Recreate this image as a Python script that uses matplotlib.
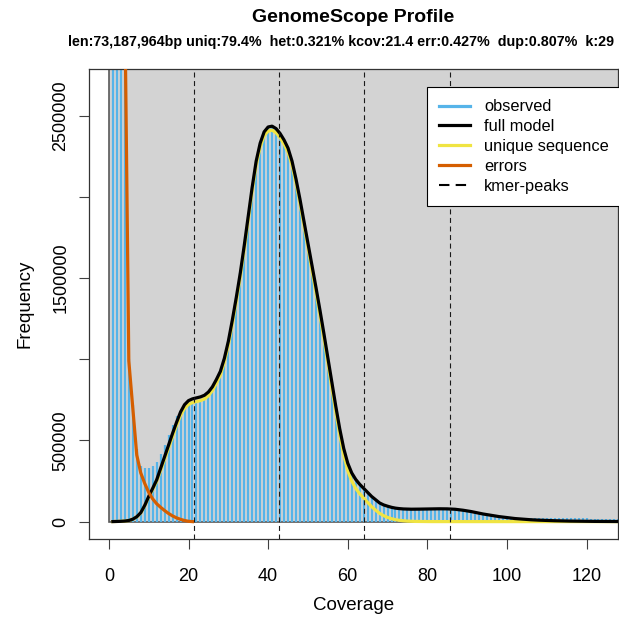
import matplotlib
matplotlib.use('Agg')
import matplotlib.pyplot as plt
from matplotlib.patches import Rectangle
from matplotlib.lines import Line2D
import numpy as np

plt.rcParams['font.family'] = ['Liberation Sans', 'DejaVu Sans']

# k-mer coverage 1..130
coverage = list(range(1, 131))

observed = [
    32000000, 14000000, 6000000, 3300000, 1000000, 720000, 450000, 345000, 330000, 332000,
    345000, 368000, 418000, 470000, 535000, 598000, 650000, 690000, 715000, 728000,
    735000, 740000, 748000, 760000, 782000, 815000, 862000, 918000, 1000000, 1105000,
    1235000, 1378000, 1528000, 1698000, 1878000, 2058000, 2215000, 2325000, 2398000, 2428000,
    2432000, 2418000, 2388000, 2348000, 2298000, 2218000, 2108000, 1982000, 1848000, 1712000,
    1578000, 1442000, 1302000, 1158000, 1008000, 858000, 708000, 568000, 448000, 358000,
    298000, 258000, 228000, 203000, 178000, 153000, 133000, 114000, 102000, 94000,
    87000, 82000, 79000, 77000, 76000, 76000, 76500, 77000, 77500, 78000,
    78000, 78500, 78500, 78000, 77500, 76500, 75000, 72000, 69000, 65000,
    61000, 56000, 51000, 46500, 42500, 38500, 35000, 31500, 28500, 26000,
    24500, 24000, 23500, 23000, 23000, 22500, 22500, 22000, 22000, 21500,
    21500, 21000, 21000, 20500, 20500, 20000, 20000, 20000, 19500, 19500,
    19000, 19000, 19000, 18500, 18500, 18500, 18000, 18000, 18000, 17500,
]

full_model = [
    300, 800, 1800, 3500, 7000, 15000, 30000, 55000, 100000, 155000,
    205000, 257000, 328000, 400000, 472000, 544000, 612000, 675000, 720000, 745000,
    756000, 762000, 768000, 778000, 798000, 830000, 875000, 925000, 1005000, 1110000,
    1240000, 1380000, 1530000, 1700000, 1880000, 2060000, 2220000, 2330000, 2400000, 2430000,
    2435000, 2420000, 2390000, 2350000, 2300000, 2220000, 2110000, 1985000, 1850000, 1715000,
    1580000, 1445000, 1305000, 1160000, 1010000, 860000, 710000, 570000, 450000, 360000,
    300000, 260000, 230000, 205000, 180000, 155000, 135000, 115000, 103000, 95000,
    88000, 83000, 80000, 78000, 77000, 76500, 76500, 77000, 77500, 78000,
    78500, 79000, 79000, 79000, 78500, 77500, 76000, 73000, 70000, 66000,
    62000, 57000, 52000, 47000, 43000, 39000, 35000, 31000, 28000, 25000,
    22000, 19000, 17000, 15000, 13000, 11500, 10000, 9000, 8000, 7000,
    6200, 5500, 4800, 4200, 3700, 3200, 2800, 2400, 2100, 1800,
    1600, 1400, 1200, 1000, 900, 800, 700, 600, 500, 450,
]

unique_seq = [
    290, 780, 1750, 3400, 6800, 14500, 29000, 53000, 97000, 150000,
    198000, 248000, 315000, 385000, 455000, 526000, 593000, 654000, 698000, 722000,
    733000, 739000, 745000, 755000, 775000, 807000, 852000, 902000, 982000, 1087000,
    1216000, 1356000, 1506000, 1676000, 1856000, 2036000, 2196000, 2306000, 2376000, 2405000,
    2410000, 2395000, 2365000, 2325000, 2275000, 2195000, 2085000, 1960000, 1825000, 1690000,
    1550000, 1415000, 1275000, 1130000, 980000, 825000, 675000, 535000, 410000, 315000,
    250000, 205000, 172000, 145000, 118000, 92000, 71000, 51000, 37000, 26000,
    18000, 12000, 8000, 5000, 3000, 2000, 1200, 800, 500, 300,
    200, 150, 100, 80, 60, 40, 30, 20, 10, 10,
    0, 0, 0, 0, 0, 0, 0, 0, 0, 0,
    0, 0, 0, 0, 0, 0, 0, 0, 0, 0,
    0, 0, 0, 0, 0, 0, 0, 0, 0, 0,
    0, 0, 0, 0, 0, 0, 0, 0, 0, 0,
]

err_cov = list(range(1, 22))
errors = [32000000, 14000000, 6000000, 3200000, 990000, 700000, 410000, 300000, 235000, 180000,
          140000, 110000, 88000, 68000, 50000, 35000, 23000, 14000, 7000, 2000, 0]

kmer_peaks = [21.4, 42.8, 64.2, 85.6]

yticks = [0, 500000, 1000000, 1500000, 2000000, 2500000]
ytick_labels = ['0', '500000', '', '1500000', '', '2500000']
xticks = [0, 20, 40, 60, 80, 100, 120]

C_HIST = '#56B4E9'
C_ERR = '#D55E00'
C_UNIQ = '#F0E442'

fig = plt.figure(figsize=(6.19, 6.17), dpi=100)
ax = fig.add_axes([89 / 619, 1 - 539 / 617, 529 / 619, 470 / 617])
ax.set_xlim(-5.0, 127.9)
ax.set_ylim(-107000, 2787000)

ax.add_patch(Rectangle((0, 0), 1000, 1e9, facecolor='#D3D3D3', edgecolor='0.35',
                       lw=1.2, zorder=1))
ax.vlines(coverage, 0, observed, color=C_HIST, lw=1.6, zorder=2)
ax.plot(coverage, unique_seq, color=C_UNIQ, lw=2.3, zorder=3)
ax.plot(coverage, full_model, color='black', lw=2.3, zorder=4)
ax.plot(err_cov, errors, color=C_ERR, lw=2.3, zorder=5)
for p in kmer_peaks:
    ax.axvline(p, color='0.1', lw=0.8, ls=(0, (4.5, 3.2)), zorder=6)

ax.set_xticks(xticks)
ax.set_yticks(yticks)
ax.set_yticklabels(ytick_labels, rotation=90, va='center')
ax.tick_params(axis='both', labelsize=13, length=7.2, width=0.8, color='0.25')
ax.tick_params(axis='x', pad=13.5)
ax.tick_params(axis='y', pad=7)
for s in ax.spines.values():
    s.set_color('0.2')
    s.set_linewidth(0.9)

handles = [
    Line2D([], [], color=C_HIST, lw=2.3),
    Line2D([], [], color='black', lw=2.3),
    Line2D([], [], color=C_UNIQ, lw=2.3),
    Line2D([], [], color=C_ERR, lw=2.3),
    Line2D([], [], color='black', lw=1.5, ls=(0, (5, 3))),
]
labels = ['observed', 'full model', 'unique sequence', 'errors', 'kmer-peaks']
leg = ax.legend(handles, labels, loc='upper left', bbox_to_anchor=(338 / 529, (539 - 87) / 470),
                fontsize=11.8, frameon=True, fancybox=False, edgecolor='black',
                framealpha=1, handlelength=1.9, handletextpad=0.85, borderpad=0.75,
                labelspacing=0.3, borderaxespad=0)
leg.get_frame().set_linewidth(0.8)
leg.set_zorder(10)

cx = (89 + 618) / 2 / 619
fig.text(cx, 1 - 18 / 617, 'GenomeScope Profile', ha='center', va='center',
         fontsize=14, fontweight='bold')
fig.text(340.5 / 619, 1 - 42 / 617,
         'len:73,187,964bp uniq:79.4%  het:0.321% kcov:21.4 err:0.427%  dup:0.807%  k:29',
         ha='center', va='center', fontsize=10.3, fontweight='bold')
fig.text(cx, 1 - 606 / 617, 'Coverage', ha='center', va='center', fontsize=13.5)
fig.text(25 / 619, 1 - 304 / 617, 'Frequency', ha='center', va='center', fontsize=13.5,
         rotation=90)

fig.savefig('out.png', dpi=100)
